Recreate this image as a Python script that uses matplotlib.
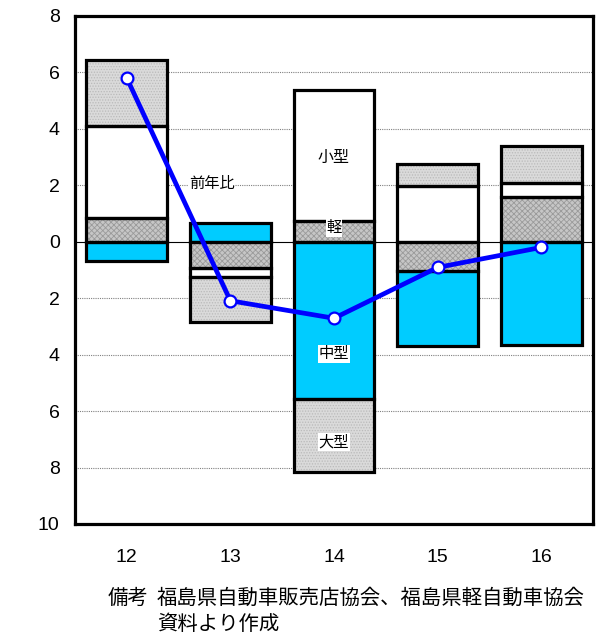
import numpy as np
import matplotlib
matplotlib.use("Agg")
import matplotlib.pyplot as plt
from matplotlib.ticker import FuncFormatter, FixedLocator

plt.rcParams['font.family'] = ['Liberation Sans', 'Noto Sans CJK JP', 'DejaVu Sans']
plt.rcParams['hatch.linewidth'] = 0.6

# 年度別 新車登録台数の前年比と車種別寄与度 (%)
years = ['12', '13', '14', '15', '16']
kei = [0.84, -0.93, 0.72, -1.05, 1.58]      # 軽
kogata = [3.25, -0.32, 4.67, 1.96, 0.52]    # 小型
chugata = [-0.69, 0.68, -5.56, -2.66, -3.65]  # 中型
ogata = [2.36, -1.58, -2.58, 0.81, 1.30]    # 大型
yoy = [5.80, -2.09, -2.71, -0.91, -0.20]    # 前年比

series = [
    (kei, '#C6C6C6', '#9A9A9A', 'xxxxxx'),
    (kogata, '#FFFFFF', None, None),
    (chugata, '#00CCFF', None, None),
    (ogata, '#DADADA', '#BABABA', '......'),
]

fig = plt.figure(figsize=(5.96, 6.36), dpi=100)
ax = fig.add_axes([75 / 596, 1 - 524 / 636, 518 / 596, 508 / 636])

x = np.arange(len(years))
width = 0.78
pos_base = np.zeros(len(years))
neg_base = np.zeros(len(years))

ax.axhline(0, color='black', lw=0.8, zorder=1)

for vals, fc, hc, hatch in series:
    v = np.array(vals, dtype=float)
    base = np.where(v >= 0, pos_base, neg_base)
    ax.bar(x, v, width, bottom=base, color=fc, linewidth=0, zorder=2)
    if hatch:
        ax.bar(x, v, width, bottom=base, facecolor='none', edgecolor=hc,
               hatch=hatch, linewidth=0, zorder=2.1)
    ax.bar(x, v, width, bottom=base, facecolor='none', edgecolor='black',
           linewidth=2.3, zorder=2.2)
    pos_base = np.where(v >= 0, pos_base + v, pos_base)
    neg_base = np.where(v < 0, neg_base + v, neg_base)

ax.plot(x, yoy, color='#0000FF', lw=3.4, marker='o', markersize=8.5,
        markerfacecolor='white', markeredgecolor='#0000FF',
        markeredgewidth=1.6, zorder=4)

ax.set_xlim(-0.5, len(years) - 0.5)
ax.set_ylim(-10, 8)

for yv in [6, 4, 2, -2, -4, -6, -8]:
    ax.axhline(yv, color='#808080', lw=0.8, ls=(0, (1, 1)), zorder=0.5)

ax.yaxis.set_major_locator(FixedLocator(np.arange(-10, 9, 2)))
ax.yaxis.set_major_formatter(FuncFormatter(lambda v, p: f"{abs(int(round(v)))}"))
ax.set_xticks(x)
ax.set_xticklabels(years)
ax.tick_params(axis='y', length=0, pad=11, labelsize=14)
ax.tick_params(axis='x', length=0, pad=18, labelsize=14)

for s in ax.spines.values():
    s.set_linewidth(2.3)
    s.set_color('black')

cjk = ['Noto Sans CJK JP', 'DejaVu Sans']
box = dict(facecolor='white', edgecolor='none', pad=0.5)
ax.text(0.82, 2.05, '前年比', family=cjk, fontsize=11, ha='center', va='center',
        bbox=box, zorder=3)
ax.text(2, 2.98, '小型', family=cjk, fontsize=11.5, ha='center', va='center',
        bbox=box, zorder=5)
ax.text(2, 0.50, '軽', family=cjk, fontsize=11, ha='center', va='center',
        bbox=box, zorder=5)
ax.text(2, -3.97, '中型', family=cjk, fontsize=11, ha='center', va='center',
        bbox=box, zorder=5)
ax.text(2, -7.09, '大型', family=cjk, fontsize=11, ha='center', va='center',
        bbox=box, zorder=5)

fig.text(108 / 596, 1 - 598 / 636, '備考', family=cjk, fontsize=14.7,
         ha='left', va='center')
fig.text(157 / 596, 1 - 598 / 636, '福島県自動車販売店協会、福島県軽自動車協会',
         family=cjk, fontsize=14.7, ha='left', va='center')
fig.text(157 / 596, 1 - 624 / 636, '資料より作成', family=cjk, fontsize=14.7,
         ha='left', va='center')

fig.savefig('out.png', dpi=100)
